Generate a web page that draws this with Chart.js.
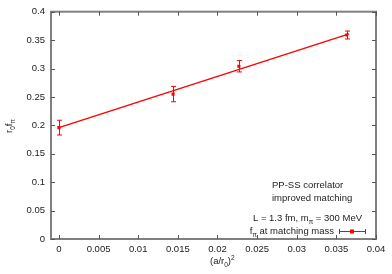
<!DOCTYPE html>
<html>
<head>
<meta charset="utf-8">
<script src="https://cdn.jsdelivr.net/npm/chart.js@4"></script>
<style>
  html, body { margin: 0; padding: 0; background: #fff; }
  #wrap { width: 392px; height: 274px; }
</style>
</head>
<body>
<div id="wrap"><canvas id="c" width="392" height="274"></canvas></div>
<script>
// measured points: x = (a/r0)^2, y = r0 f_pi
const xVals = [0, 0.0144, 0.0227, 0.0363];
const yVals = [0.196, 0.255, 0.304, 0.359];
const yErr = [0.013, 0.0135, 0.010, 0.007];

// linear fit line
const fitX = [0, 0.0366];
const fitY = [0.196, 0.361];

const xTicks = [0, 0.005, 0.01, 0.015, 0.02, 0.025, 0.03, 0.035, 0.04];
const yTicks = [0, 0.05, 0.1, 0.15, 0.2, 0.25, 0.3, 0.35, 0.4];

const RED = "#ff0000";
const FAMILY = "'Liberation Sans', Arial, sans-serif";
const FONT = "9.5px " + FAMILY;
const SUBFONT = "6.5px " + FAMILY;
const TXT = "#222";

// draws text with pieces like ["m", {sub: "π"}, " = 300"]
function richText(ctx, parts, x, y, align) {
  const widths = parts.map((p) => {
    if (typeof p === "string") { ctx.font = FONT; return ctx.measureText(p).width; }
    ctx.font = SUBFONT; return ctx.measureText(p.sub || p.sup).width;
  });
  const total = widths.reduce((a, b) => a + b, 0);
  let cx = align === "right" ? x - total : align === "center" ? x - total / 2 : x;
  ctx.textAlign = "left";
  ctx.textBaseline = "alphabetic";
  parts.forEach((p, i) => {
    if (typeof p === "string") {
      ctx.font = FONT; ctx.fillText(p, cx, y);
    } else if (p.sub) {
      ctx.font = SUBFONT; ctx.fillText(p.sub, cx, y + 2.5);
    } else {
      ctx.font = SUBFONT; ctx.fillText(p.sup, cx, y - 4.5);
    }
    cx += widths[i];
  });
}

const decor = {
  id: "decor",
  afterDatasetsDraw(chart) {
    const { ctx, chartArea: a, scales: { x, y } } = chart;
    ctx.save();
    // frame
    ctx.strokeStyle = "#808080";
    ctx.lineWidth = 2;
    ctx.strokeRect(a.left, a.top, a.right - a.left, a.bottom - a.top);
    // inward ticks on all sides
    ctx.lineWidth = 1;
    ctx.strokeStyle = "#555";
    ctx.beginPath();
    xTicks.forEach((t) => {
      const px = Math.round(x.getPixelForValue(t)) + 0.5;
      ctx.moveTo(px, a.bottom); ctx.lineTo(px, a.bottom - 4);
      ctx.moveTo(px, a.top); ctx.lineTo(px, a.top + 4);
    });
    yTicks.forEach((t) => {
      const py = Math.round(y.getPixelForValue(t)) + 0.5;
      ctx.moveTo(a.left, py); ctx.lineTo(a.left + 4, py);
      ctx.moveTo(a.right, py); ctx.lineTo(a.right - 4, py);
    });
    ctx.stroke();

    // error bars
    ctx.strokeStyle = RED;
    ctx.lineWidth = 1;
    ctx.beginPath();
    xVals.forEach((xv, i) => {
      const px = Math.round(x.getPixelForValue(xv)) + 0.5;
      const top = y.getPixelForValue(yVals[i] + yErr[i]);
      const bot = y.getPixelForValue(yVals[i] - yErr[i]);
      ctx.moveTo(px, top); ctx.lineTo(px, bot);
      ctx.moveTo(px - 2.5, top); ctx.lineTo(px + 2.5, top);
      ctx.moveTo(px - 2.5, bot); ctx.lineTo(px + 2.5, bot);
    });
    ctx.stroke();

    // key text
    ctx.fillStyle = TXT;
    richText(ctx, ["PP-SS correlator"], 272, 188, "left");
    richText(ctx, ["improved matching"], 272, 201, "left");
    richText(ctx, ["L = 1.3 fm, m", { sub: "π" }, " = 300 MeV"], 362, 221, "right");
    richText(ctx, ["f", { sub: "π" }, " at matching mass"], 334, 234, "right");
    // key sample
    ctx.strokeStyle = RED;
    ctx.lineWidth = 1;
    ctx.beginPath();
    ctx.moveTo(339, 231.5); ctx.lineTo(366, 231.5);
    ctx.moveTo(339.5, 229); ctx.lineTo(339.5, 234);
    ctx.moveTo(365.5, 229); ctx.lineTo(365.5, 234);
    ctx.stroke();
    ctx.fillStyle = RED;
    ctx.fillRect(350, 229.5, 4, 4);

    // axis titles
    ctx.fillStyle = TXT;
    richText(ctx, ["(a/r", { sub: "0" }, ")", { sup: "2" }], 210, 264, "left");
    ctx.translate(12, 126);
    ctx.rotate(-Math.PI / 2);
    richText(ctx, ["r", { sub: "0" }, "f", { sub: "π" }], 0, 0, "center");
    ctx.restore();
  },
};

new Chart(document.getElementById("c"), {
  type: "scatter",
  data: {
    datasets: [
      {
        label: "fit",
        type: "line",
        data: fitX.map((v, i) => ({ x: v, y: fitY[i] })),
        borderColor: RED,
        borderWidth: 1.5,
        pointRadius: 0,
        showLine: true,
      },
      {
        label: "f_pi at matching mass",
        data: xVals.map((v, i) => ({ x: v, y: yVals[i] })),
        pointStyle: "rect",
        pointRadius: 2.2,
        backgroundColor: RED,
        borderColor: RED,
        borderWidth: 0,
      },
    ],
  },
  options: {
    responsive: false,
    animation: false,
    layout: { padding: { top: 11, right: 16, left: 0, bottom: 0 } },
    plugins: { legend: { display: false }, tooltip: { enabled: false } },
    scales: {
      x: {
        type: "linear",
        min: -0.001,
        max: 0.04,
        afterFit: (s) => { s.height = 35; },
        afterBuildTicks: (s) => { s.ticks = xTicks.map((v) => ({ value: v })); },
        grid: { display: false, drawTicks: false },
        border: { display: false },
        ticks: {
          color: TXT,
          font: { family: FAMILY, size: 9.5 },
          padding: 5,
          maxRotation: 0,
          callback: (v) => String(+v.toFixed(3)),
        },
      },
      y: {
        min: 0,
        max: 0.4,
        afterFit: (s) => { s.width = 51; },
        afterBuildTicks: (s) => { s.ticks = yTicks.map((v) => ({ value: v })); },
        grid: { display: false, drawTicks: false },
        border: { display: false },
        ticks: {
          color: TXT,
          font: { family: FAMILY, size: 9.5 },
          padding: 6,
          callback: (v) => String(+v.toFixed(2)),
        },
      },
    },
  },
  plugins: [decor],
});
</script>
</body>
</html>
